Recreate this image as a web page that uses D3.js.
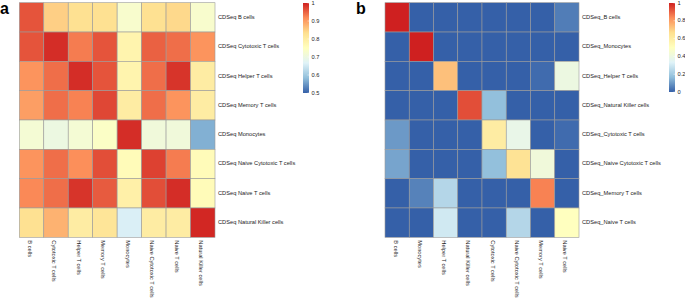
<!DOCTYPE html>
<html>
<head>
<meta charset="utf-8">
<script src="https://cdn.jsdelivr.net/npm/d3@7"></script>
<style>
  body { margin: 0; background: #fff; }
  text { font-family: "Liberation Sans", Arial, sans-serif; fill: #222; }
</style>
</head>
<body>
<svg id="chart" width="685" height="301"></svg>
<script>
// Panel a: correlation, rows x cols
const rowsA = ["CDSeq B cells", "CDSeq Cytotoxic T cells", "CDSeq Helper T cells", "CDSeq Memory T cells",
  "CDSeq Monocytes", "CDSeq Naive Cytotoxic T cells", "CDSeq Naive T cells", "CDSeq Natural Killer cells"];
const colsA = ["B cells", "Cytotoxic T cells", "Helper T cells", "Memory T cells",
  "Monocytes", "Naive Cytotoxic T cells", "Naive T cells", "Natural Killer cells"];
const valuesA = [
  [0.96, 0.85, 0.83, 0.83, 0.73, 0.83, 0.84, 0.73],
  [0.96, 0.99, 0.93, 0.96, 0.78, 0.95, 0.94, 0.91],
  [0.91, 0.94, 0.99, 0.96, 0.78, 0.94, 0.985, 0.80],
  [0.90, 0.94, 0.925, 0.97, 0.80, 0.94, 0.91, 0.80],
  [0.72, 0.70, 0.72, 0.74, 0.99, 0.71, 0.71, 0.57],
  [0.91, 0.94, 0.915, 0.965, 0.76, 0.975, 0.93, 0.76],
  [0.92, 0.94, 0.985, 0.955, 0.79, 0.965, 0.99, 0.76],
  [0.83, 0.88, 0.80, 0.82, 0.66, 0.80, 0.80, 0.995]
];
const ticksA = [0.5, 0.6, 0.7, 0.8, 0.9, 1];

// Panel b
const rowsB = ["CDSeq_B cells", "CDSeq_Monocytes", "CDSeq_Helper T cells", "CDSeq_Natural Killer cells",
  "CDSeq_Cytotoxic T cells", "CDSeq_Naive Cytotoxic T cells", "CDSeq_Memory T cells", "CDSeq_Naive T cells"];
const colsB = ["B cells", "Monocytes", "Helper T cells", "Natural Killer cells",
  "Cytotoxic T cells", "Naive Cytotoxic T cells", "Memory T cells", "Naive T cells"];
const valuesB = [
  [1.00, 0, 0, 0, 0, 0, 0, 0.05],
  [0, 1.00, 0, 0, 0, 0, 0, 0],
  [0, 0, 0.73, 0, 0, 0, 0.02, 0.40],
  [0, 0, 0, 0.93, 0.17, 0, 0, 0],
  [0.10, 0, 0, 0, 0.60, 0.38, 0, 0.02],
  [0.12, 0, 0, 0, 0.17, 0.65, 0.42, 0],
  [0, 0.06, 0.24, 0, 0, 0, 0.85, 0],
  [0, 0, 0.30, 0, 0, 0.24, 0, 0.50]
];
const ticksB = [0, 0.2, 0.4, 0.6, 0.8, 1];

const palette = ["#3560a8", "#91bfdb", "#e0f3f8", "#ffffbf", "#fee090", "#fc8d59", "#cf2020"];

const svg = d3.select("#chart");

function heatmap(opt) {
  const g = svg.append("g");
  const x = d3.scaleBand().domain(opt.cols).range([opt.x0, opt.x1]);
  const y = d3.scaleBand().domain(opt.rows).range([opt.y0, opt.y1]);
  const color = d3.scaleLinear()
    .domain(palette.map((c, i) => opt.dom[0] + (opt.dom[1] - opt.dom[0]) * i / (palette.length - 1)))
    .range(palette)
    .clamp(true);

  opt.values.forEach((row, i) => {
    row.forEach((v, j) => {
      g.append("rect")
        .attr("x", x(opt.cols[j]))
        .attr("y", y(opt.rows[i]))
        .attr("width", x.bandwidth())
        .attr("height", y.bandwidth())
        .attr("fill", color(v))
        .attr("stroke", "#9a9a9a")
        .attr("stroke-width", 0.6);
    });
  });

  // row labels
  g.selectAll(".rl").data(opt.rows).enter().append("text")
    .attr("x", opt.x1 + 3)
    .attr("y", d => y(d) + y.bandwidth() / 2)
    .attr("dominant-baseline", "middle")
    .attr("font-size", 5.7)
    .text(d => d);

  // column labels, rotated
  g.selectAll(".cl").data(opt.cols).enter().append("text")
    .attr("transform", d => `translate(${x(d) + x.bandwidth() / 2 - 2}, ${opt.y1 + 3}) rotate(90)`)
    .attr("dominant-baseline", "middle")
    .attr("font-size", 5.7)
    .text(d => d);

  // legend
  const gradId = "grad" + opt.id;
  const grad = svg.append("defs").append("linearGradient")
    .attr("id", gradId).attr("x1", 0).attr("y1", 1).attr("x2", 0).attr("y2", 0);
  palette.forEach((c, i) => {
    grad.append("stop").attr("offset", i / (palette.length - 1)).attr("stop-color", c);
  });
  const ly = d3.scaleLinear().domain(opt.dom).range([opt.ly1, opt.ly0]);
  g.append("rect")
    .attr("x", opt.lx).attr("y", opt.ly0)
    .attr("width", 6).attr("height", opt.ly1 - opt.ly0)
    .attr("fill", `url(#${gradId})`);
  g.selectAll(".tk").data(opt.ticks).enter().append("line")
    .attr("x1", opt.lx + 4.5).attr("x2", opt.lx + 6)
    .attr("y1", d => ly(d)).attr("y2", d => ly(d))
    .attr("stroke", "#fff").attr("stroke-width", 0.5);
  g.selectAll(".tl").data(opt.ticks).enter().append("text")
    .attr("x", opt.lx + 8.5)
    .attr("y", d => ly(d))
    .attr("dominant-baseline", "middle")
    .attr("font-size", 5.7)
    .text(d => d);

  svg.append("text")
    .attr("x", opt.labelX).attr("y", 14)
    .attr("font-size", 16).attr("font-weight", "bold")
    .style("fill", "#000")
    .text(opt.id);
}

heatmap({ id: "a", rows: rowsA, cols: colsA, values: valuesA, dom: [0.5, 1], ticks: ticksA,
  x0: 19.3, x1: 215, y0: 2.7, y1: 237.3, lx: 303, ly0: 3, ly1: 93, labelX: 0 });
heatmap({ id: "b", rows: rowsB, cols: colsB, values: valuesB, dom: [0, 1], ticks: ticksB,
  x0: 385, x1: 579, y0: 2.7, y1: 237.3, lx: 669, ly0: 3, ly1: 92, labelX: 356 });
</script>
</body>
</html>
